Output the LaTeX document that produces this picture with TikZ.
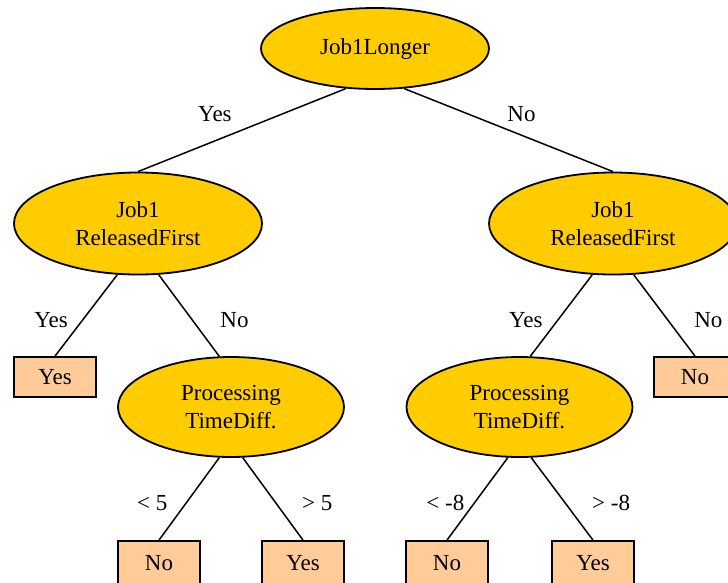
\documentclass[tikz,border=0pt]{standalone}
\usepackage{fontspec}
\setmainfont{Liberation Serif}
\usetikzlibrary{shapes.geometric}

\definecolor{testfill}{HTML}{FFCC00}
\definecolor{leaffill}{HTML}{FFCC99}
\newcommand{\treefont}{\fontsize{23}{27.5}\selectfont}

\tikzset{test/.style={ellipse,draw,fill=testfill,line width=1.8pt,inner sep=0pt,align=center,font=\treefont}}
\tikzset{leaf/.style={rectangle,draw,fill=leaffill,line width=1.8pt,inner sep=0pt,minimum width=82pt,minimum height=40pt,font=\treefont}}
\tikzset{branch/.style={line width=1.5pt}}
\tikzset{lbl/.style={font=\treefont,inner sep=0pt}}

\begin{document}
\begin{tikzpicture}[x=1pt,y=-1pt]
    \useasboundingbox (0,0) rectangle (728,582);
    \clip (0,0) rectangle (728,582);
    % decision nodes
    \node[test,minimum width=228pt,minimum height=81pt]  (root) at (375,48.5) {Job1Longer};
    \node[test,minimum width=248pt,minimum height=102pt] (relL) at (138,223.5) {Job1\\ReleasedFirst};
    \node[test,minimum width=248pt,minimum height=102pt] (relR) at (613,223.5) {Job1\\ReleasedFirst};
    \node[test,minimum width=226pt,minimum height=100pt] (procL) at (231,407) {Processing\\TimeDiff.};
    \node[test,minimum width=226pt,minimum height=100pt] (procR) at (519.5,407) {Processing\\TimeDiff.};
    % leaves (bottom row runs off the page)
    \node[leaf] (yesA) at (55,377)  {Yes};
    \node[leaf] (noA)  at (695,377) {No};
    \node[leaf,minimum height=44pt] (noB)  at (159,563) {No};
    \node[leaf,minimum height=44pt] (yesB) at (303,563) {Yes};
    \node[leaf,minimum height=44pt] (noC)  at (447,563) {No};
    \node[leaf,minimum height=44pt] (yesC) at (593,563) {Yes};
    % branches
    \draw[branch] (root.234) -- node[lbl,xshift=-27pt,yshift=16pt] (l1) {Yes} (relL.north);
    \draw[branch] (root.306) -- node[lbl,xshift=13pt,yshift=16pt]  (l2) {No}  (relR.north);
    \draw[branch] (relL.248) -- node[lbl,xshift=-35pt,yshift=-4.5pt] (l3) {Yes} (yesA.north);
    \draw[branch] (relL.292) -- node[lbl,xshift=45.5pt,yshift=-4.5pt] (l4) {No} (procL.103);
    \draw[branch] (relR.248) -- node[lbl,xshift=-35.5pt,yshift=-4.5pt] (l5) {Yes} (procR.78);
    \draw[branch] (relR.292) -- node[lbl,xshift=44pt,yshift=-4.5pt] (l6) {No} (noA.north);
    \draw[branch] (procL.257) -- node[lbl,xshift=-37pt,yshift=-4pt] (l7) {< 5} (noB.north);
    \draw[branch] (procL.283) -- node[lbl,xshift=44.5pt,yshift=-4pt] (l8) {> 5} (yesB.north);
    \draw[branch] (procR.257) -- node[lbl,xshift=-32pt,yshift=-4pt] (l9) {< -8} (noC.north);
    \draw[branch] (procR.283) -- node[lbl,xshift=49pt,yshift=-4pt] (l10) {> -8} (yesC.north);
\end{tikzpicture}
\end{document}
